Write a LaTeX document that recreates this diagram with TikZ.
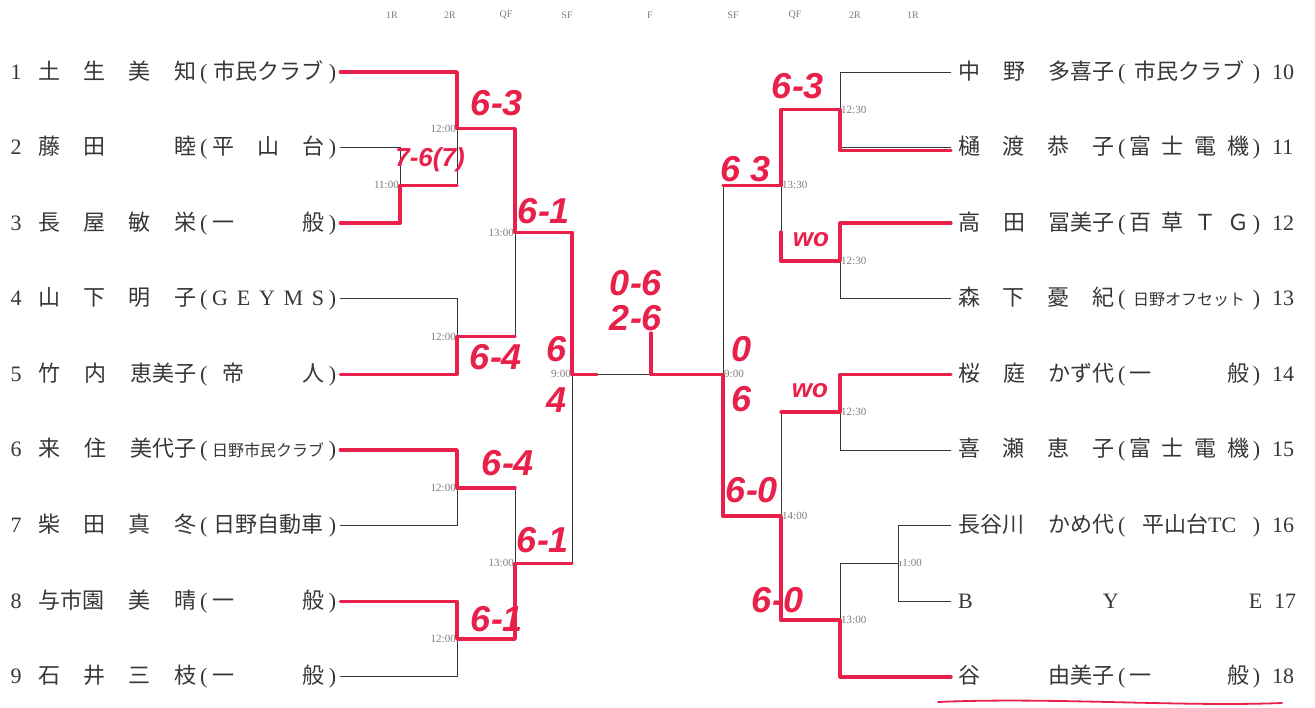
\documentclass[tikz,border=0pt]{standalone}
\usepackage{fontspec}
\setmainfont{Liberation Serif}
\newfontfamily\jp{Noto Sans CJK JP}
\newfontfamily\hand{Liberation Sans}
\definecolor{pen}{RGB}{232,32,74}
\definecolor{ink}{RGB}{55,55,55}
\definecolor{tm}{RGB}{125,125,125}
\newcommand\lrow[3]{\hbox to 24pt{\hss#1\hss}\hskip 10pt\hbox to 158pt{\jp #2}\hskip 4pt\hbox to 136pt{(\hfil\hbox to 112pt{\jp #3}\hfil)}}
\newcommand\rrow[3]{\hbox to 156pt{\jp #1}\hskip 4pt\hbox to 142pt{(\hfil\hbox to 120pt{\jp #2}\hfil)}\hskip 12pt #3}
\newcommand\smallclub[1]{{\fontsize{16}{16}\selectfont #1}}
\newcommand\gap{\hfill{}}
\tikzset{
  lname/.style={anchor=west, inner sep=0pt, text=ink, font=\fontsize{22}{22}\selectfont},
  bk/.style={draw=ink, line width=0.9pt},
  redpen/.style={draw=pen, line width=3.4pt, line cap=round, line join=round},
  score/.style={text=pen, inner sep=0pt, font=\hand\bfseries\itshape\fontsize{36}{36}\selectfont},
  smallscore/.style={score, font=\hand\bfseries\itshape\fontsize{26}{26}\selectfont},
  tl/.style={text=tm, inner sep=1pt, font=\fontsize{11}{11}\selectfont, anchor=east},
  tr/.style={text=tm, inner sep=1pt, font=\fontsize{11}{11}\selectfont, anchor=west},
  hd/.style={text=tm, inner sep=0pt, font=\fontsize{10}{10}\selectfont}
}
\begin{document}
\begin{tikzpicture}[x=1pt,y=-1pt]
\useasboundingbox (0,0) rectangle (1315,708);
\fill[white] (0,0) rectangle (1315,708);

% headers
\node[hd] (h1) at (392,15) {1R};
\node[hd] (h2) at (450,15) {2R};
\node[hd] (h3) at (506,15) {QF};
\node[hd] (h4) at (567,15) {SF};
\node[hd] (h5) at (650,15) {F};
\node[hd] (h6) at (733,15) {SF};
\node[hd] (h7) at (795,15) {QF};
\node[hd] (h8) at (855,15) {2R};
\node[hd] (h9) at (913,15) {1R};

% left players
\node[lname] (p1) at (4,72) {\lrow{1}{土\gap 生\gap 美\gap 知}{\hfil{}市民クラブ\hfil{}}};
\node[lname] (p2) at (4,147.6) {\lrow{2}{藤\gap 田\gap \phantom{美}\gap 睦}{平\gap 山\gap 台}};
\node[lname] (p3) at (4,223.2) {\lrow{3}{長\gap 屋\gap 敏\gap 栄}{一\gap 般}};
\node[lname] (p4) at (4,298.8) {\lrow{4}{山\gap 下\gap 明\gap 子}{\rmfamily G\hfill E\hfill Y\hfill M\hfill S}};
\node[lname] (p5) at (4,374.4) {\lrow{5}{竹\gap 内\gap 恵美子}{\hskip 10pt{}帝\gap 人}};
\node[lname] (p6) at (4,450) {\lrow{6}{来\gap 住\gap 美代子}{\hfil{}\smallclub{日野市民クラブ}\hfil{}}};
\node[lname] (p7) at (4,525.6) {\lrow{7}{柴\gap 田\gap 真\gap 冬}{\hfil{}日野自動車\hfil{}}};
\node[lname] (p8) at (4,601.2) {\lrow{8}{与市園\gap 美\gap 晴}{一\gap 般}};
\node[lname] (p9) at (4,676.8) {\lrow{9}{石\gap 井\gap 三\gap 枝}{一\gap 般}};

% right players
\node[lname] (q10) at (958,72) {\rrow{中\gap 野\gap 多喜子}{\hfil{}市民クラブ\hfil{}}{10}};
\node[lname] (q11) at (958,147.6) {\rrow{樋\gap 渡\gap 恭\gap 子}{富\gap 士\gap 電\gap 機}{11}};
\node[lname] (q12) at (958,223.2) {\rrow{高\gap 田\gap 冨美子}{百\gap 草\gap Ｔ\gap Ｇ}{12}};
\node[lname] (q13) at (958,298.8) {\rrow{森\gap 下\gap 憂\gap 紀}{\hfil{}\smallclub{日野オフセット}\hfil{}}{13}};
\node[lname] (q14) at (958,374.4) {\rrow{桜\gap 庭\gap かず代}{一\gap 般}{14}};
\node[lname] (q15) at (958,450) {\rrow{喜\gap 瀬\gap 恵\gap 子}{富\gap 士\gap 電\gap 機}{15}};
\node[lname] (q16) at (958,525.6) {\rrow{長谷川\gap かめ代}{\hfil{}平山台{\rmfamily TC}\hfil{}}{16}};
\node[lname] (q17) at (958,601.2) {\hbox to 304pt{B\hfill Y\hfill E}\hskip 12pt 17};
\node[lname] (q18) at (958,676.8) {\rrow{谷\gap 由美子}{一\gap 般}{18}};

% junctions
\coordinate (L1) at (400,185.4);
\coordinate (L2a) at (457,128.7);
\coordinate (L2b) at (457,336.6);
\coordinate (L2c) at (457,487.8);
\coordinate (L2d) at (457,639);
\coordinate (LQa) at (515,232.6);
\coordinate (LQb) at (515,563.4);
\coordinate (LS) at (572,374.4);
\coordinate (LSx) at (597,374.4);
\coordinate (RS) at (723,374.4);
\coordinate (RQa) at (781,185.4);
\coordinate (RQb) at (781,516);
\coordinate (R2a) at (840,109.8);
\coordinate (R2b) at (840,261);
\coordinate (R2c) at (840,412.2);
\coordinate (R2d) at (840,620.1);
\coordinate (R1) at (898,563.4);
\coordinate (Fmark) at (651,333);
\coordinate (wotop) at (781,232);

% black bracket lines
\draw[bk] ([xshift=4pt]p1.east) -| (L2a);
\draw[bk] ([xshift=4pt]p2.east) -| (L1);
\draw[bk] ([xshift=4pt]p3.east) -| (L1);
\draw[bk] (L1) -| (L2a);
\draw[bk] ([xshift=4pt]p4.east) -| (L2b);
\draw[bk] ([xshift=4pt]p5.east) -| (L2b);
\draw[bk] ([xshift=4pt]p6.east) -| (L2c);
\draw[bk] ([xshift=4pt]p7.east) -| (L2c);
\draw[bk] ([xshift=4pt]p8.east) -| (L2d);
\draw[bk] ([xshift=4pt]p9.east) -| (L2d);
\draw[bk] (L2a) -| (LQa);
\draw[bk] (L2b) -| (LQa);
\draw[bk] (L2c) -| (LQb);
\draw[bk] (L2d) -| (LQb);
\draw[bk] (LQa) -| (LS);
\draw[bk] (LQb) -| (LS);
\draw[bk] (LS) -- (RS);
\draw[bk] ([xshift=-7pt]q10.west) -| (R2a);
\draw[bk] ([xshift=-7pt]q11.west) -| (R2a);
\draw[bk] ([xshift=-7pt]q12.west) -| (R2b);
\draw[bk] ([xshift=-7pt]q13.west) -| (R2b);
\draw[bk] ([xshift=-7pt]q14.west) -| (R2c);
\draw[bk] ([xshift=-7pt]q15.west) -| (R2c);
\draw[bk] ([xshift=-7pt]q16.west) -| (R1);
\draw[bk] ([xshift=-7pt]q17.west) -| (R1);
\draw[bk] (R1) -| (R2d);
\draw[bk] ([xshift=-7pt]q18.west) -| (R2d);
\draw[bk] (R2a) -| (RQa);
\draw[bk] (R2b) -| (RQa);
\draw[bk] (R2c) -| (RQb);
\draw[bk] (R2d) -| (RQb);
\draw[bk] (RQa) -| (RS);
\draw[bk] (RQb) -| (RS);

% red pen winners
\draw[redpen] ([xshift=4pt]p1.east) -| (L2a) -| (LQa) -| (LS) -- (LSx);
\draw[redpen] ([xshift=4pt]p3.east) -| (L1) -- (L1 -| L2a);
\draw[redpen] ([xshift=4pt]p5.east) -| (L2b) -- (L2b -| LQa);
\draw[redpen] ([xshift=4pt]p6.east) -| (L2c) -- (L2c -| LQa);
\draw[redpen] ([xshift=4pt]p8.east) -| (L2d) -| (LQb) -- (LQb -| LS);
\draw[redpen] (Fmark) |- (RS) |- (RQb) |- (R2d) |- ([xshift=-7pt]q18.west);
\draw[redpen] (RQa -| RS) -- (RQa) |- (R2a) |- ([xshift=-7pt,yshift=-3pt]q11.west);
\draw[redpen] ([xshift=-7pt]q12.west) -| (R2b) -- (R2b -| RQa) -- (wotop);
\draw[redpen] ([xshift=-7pt]q14.west) -| (R2c) -- (R2c -| RQb);
\draw[pen, line width=1.8pt, line cap=round] (938,702) .. controls (1050,697) and (1180,707) .. (1282,703);

% times
\node[tl] (t1) at (L1) {11:00};
\node[tl] (t2) at (L2a) {12:00};
\node[tl] (t3) at (L2b) {12:00};
\node[tl] (t4) at (L2c) {12:00};
\node[tl] (t5) at (L2d) {12:00};
\node[tl] (t6) at (LQa) {13:00};
\node[tl] (t7) at (LQb) {13:00};
\node[tl] (t8) at (LS) {9:00};
\node[tr] (t9) at (R2a) {12:30};
\node[tr] (t10) at (R2b) {12:30};
\node[tr] (t11) at (R2c) {12:30};
\node[tr] (t12) at (R1) {ı1:00};
\node[tr] (t13) at (R2d) {13:00};
\node[tr] (t14) at (RQa) {13:30};
\node[tr] (t15) at (RQb) {14:00};
\node[tr] (t16) at (RS) {9:00};

% scores
\node[score] (s1) at (497,103) {6-3};
\node[smallscore] (s2) at (430,160) {7-6(7)};
\node[score] (s3) at (544,211) {6-1};
\node[score] (s4) at (496,357) {6-4};
\node[score] (s5) at (557,349) {6};
\node[score] (s6) at (557,400) {4};
\node[score] (s7) at (508,463) {6-4};
\node[score] (s8) at (543,540) {6-1};
\node[score] (s9) at (497,619) {6-1};
\node[score] (s10) at (636,283) {0-6};
\node[score] (s11) at (636,318) {2-6};
\node[score] (s12) at (798,86) {6-3};
\node[score] (s13) at (746,169) {6 3};
\node[smallscore] (s14) at (811,240) {wo};
\node[score] (s15) at (742,349) {0};
\node[score] (s16) at (742,399) {6};
\node[smallscore] (s17) at (810,391) {wo};
\node[score] (s18) at (752,490) {6-0};
\node[score] (s19) at (778,600) {6-0};
\end{tikzpicture}
\end{document}
